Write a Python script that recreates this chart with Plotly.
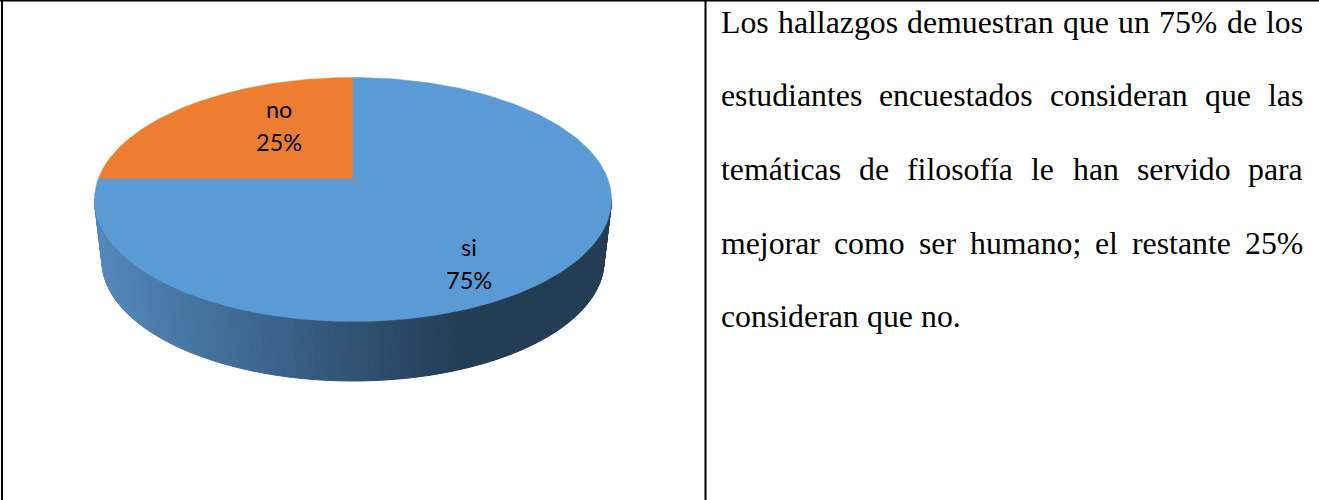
import numpy as np
import plotly.graph_objects as go

# Datos del gráfico
categorias = ['no', 'si']
porcentajes = [25, 75]
colores = ['#EC7D31', '#5B9BD5']

# Texto de la columna derecha, una cadena por renglón
renglones = [
    'Los hallazgos demuestran que un 75% de los',
    'estudiantes encuestados consideran que las',
    'temáticas de filosofía le han servido para',
    'mejorar como ser humano; el restante 25%',
    'consideran que no.',
]
renglones_y = [22, 95, 169, 243, 316.5]

TEXTO_IZQ, TEXTO_DER = 721, 1303
TEXTO_SIZE = 31.8

# Anchos de Liberation Serif (milésimas de em), para justificar a mano
ANCHOS = dict(a=444, b=500, c=444, d=500, e=444, f=333, g=500, h=500, i=278, j=278, k=500, l=278, m=778,
              n=500, o=500, p=500, q=500, r=333, s=389, t=278, u=500, v=500, w=722, x=500, y=500, z=444,
              L=611)
ANCHOS.update({'á': 444, 'í': 278, '%': 833, ';': 278, '.': 250})
ANCHOS.update({d: 500 for d in '0123456789'})

# Geometría del pastel en píxeles
CX, CY = 353, 199.5
A, B = 258.5, 122
APEX_Y = 179
CX2, CY2 = 353, 261
A2, B2 = 251, 120


def ancho(palabra):
    return sum(ANCHOS[c] for c in palabra) * TEXTO_SIZE / 1000


def punto_borde(ang):
    # Corta el rayo que sale del vértice con la elipse superior (ang desde arriba, horario)
    dx, dy = np.sin(ang), -np.cos(ang)
    oy = APEX_Y - CY
    a = (dx / A) ** 2 + (dy / B) ** 2
    b = 2 * oy * dy / B ** 2
    c = (oy / B) ** 2 - 1
    t = (-b + np.sqrt(b ** 2 - 4 * a * c)) / (2 * a)
    return CX + t * dx, APEX_Y + t * dy


def sector(ini, fin):
    # Polígono de una porción: vértice + arco de la elipse
    x0, y0 = punto_borde(ini)
    x1, y1 = punto_borde(fin)
    p0 = np.arctan2((x0 - CX) / A, -(y0 - CY) / B)
    p1 = np.arctan2((x1 - CX) / A, -(y1 - CY) / B)
    if p1 < p0:
        p1 += 2 * np.pi
    t = np.linspace(p0, p1, 200)
    xs = np.r_[CX, CX + A * np.sin(t), CX]
    ys = np.r_[APEX_Y, CY - B * np.cos(t), APEX_Y]
    return xs, ys


def color_lado(x):
    # Degradado de la pared lateral, de izquierda a derecha
    c0 = np.array([84, 136, 188])
    c1 = np.array([35, 61, 85])
    f = np.clip((x - 96) / (460 - 96), 0, 1)
    r, g, b = (c0 + (c1 - c0) * f).astype(int)
    return f'rgb({r},{g},{b})'


fig = go.Figure()

# Pared lateral por tiras
tt = np.linspace(np.pi / 2, 3 * np.pi / 2, 121)
for t0, t1 in zip(tt[:-1], tt[1:]):
    xs = [CX + A * np.sin(t0), CX + A * np.sin(t1), CX2 + A2 * np.sin(t1), CX2 + A2 * np.sin(t0)]
    ys = [CY - B * np.cos(t0), CY - B * np.cos(t1), CY2 - B2 * np.cos(t1), CY2 - B2 * np.cos(t0)]
    col = color_lado(CX + A * np.sin((t0 + t1) / 2))
    fig.add_trace(go.Scatter(x=xs + xs[:1], y=ys + ys[:1], mode='lines', fill='toself',
                             fillcolor=col, line=dict(color=col, width=1), hoverinfo='skip'))

# Porciones a partir de los porcentajes ("no" termina arriba, en las 12)
inicio = -2 * np.pi * porcentajes[0] / sum(porcentajes)
for cat, val, col in zip(categorias, porcentajes, colores):
    fin = inicio + 2 * np.pi * val / sum(porcentajes)
    xs, ys = sector(inicio, fin)
    fig.add_trace(go.Scatter(x=xs, y=ys, mode='lines', fill='toself', fillcolor=col,
                             line=dict(color=col, width=0.5), name=cat, hoverinfo='skip'))
    inicio = fin

# Etiquetas de datos, dos renglones separados
etiquetas_pos = [(279, 125.5), (469, 264)]
for cat, val, (lx, ly) in zip(categorias, porcentajes, etiquetas_pos):
    for txt, dy in [(cat, -17), (f'{val}%', 16)]:
        fig.add_annotation(x=lx, y=ly + dy, text=txt, showarrow=False,
                           font=dict(family='Lato', size=23.5, color='#000000'))

# Texto justificado palabra por palabra
for i, (renglon, y) in enumerate(zip(renglones, renglones_y)):
    palabras = renglon.split(' ')
    if i < len(renglones) - 1:
        hueco = (TEXTO_DER - TEXTO_IZQ - sum(ancho(p) for p in palabras)) / (len(palabras) - 1)
    else:
        hueco = 0.25 * TEXTO_SIZE
    x = TEXTO_IZQ
    for palabra in palabras:
        fig.add_annotation(x=x, y=y, text=palabra, showarrow=False, xanchor='left', yanchor='middle',
                           xshift=-2, font=dict(family='Liberation Serif', size=TEXTO_SIZE, color='#000000'))
        x += ancho(palabra) + hueco

# Bordes de la tabla
for x0, y0, x1, y1, w in [(2, 0, 2, 500, 2), (705.5, 0, 705.5, 500, 2), (0, 0.5, 1319, 0.5, 2)]:
    fig.add_shape(type='line', x0=x0, y0=y0, x1=x1, y1=y1, line=dict(color='#000000', width=w))

fig.update_xaxes(range=[0, 1319], visible=False, fixedrange=True)
fig.update_yaxes(range=[500, 0], visible=False, fixedrange=True)
fig.update_layout(width=1319, height=500, margin=dict(l=0, r=0, t=0, b=0), showlegend=False,
                  paper_bgcolor='white', plot_bgcolor='white')

fig.write_html("out.html", config=dict(displayModeBar=False),
               post_script="document.body.style.margin='0';document.body.style.overflow='hidden';")
